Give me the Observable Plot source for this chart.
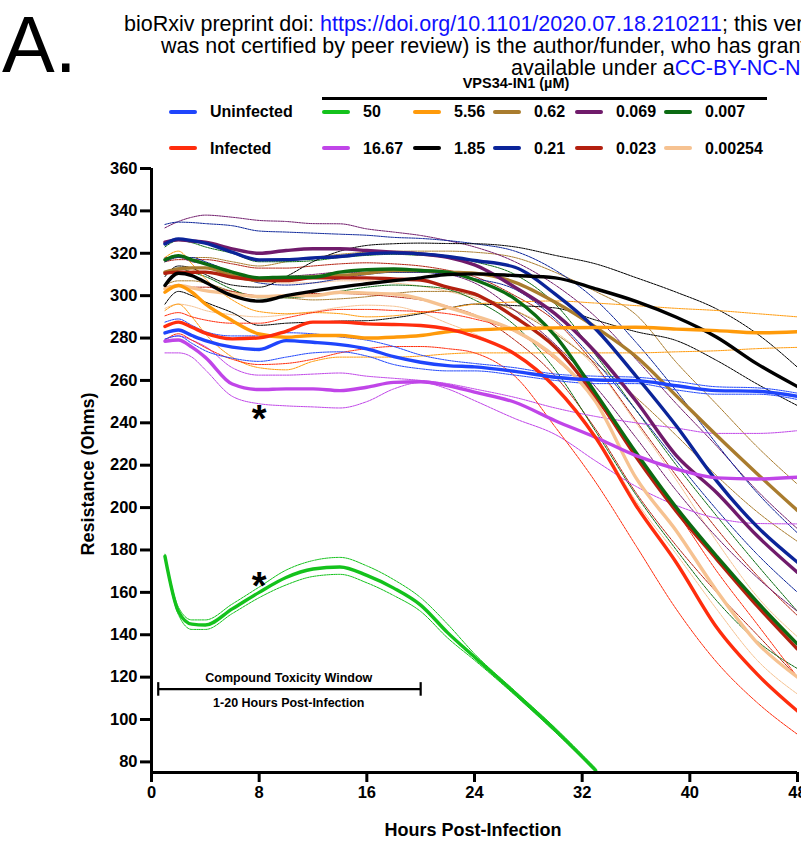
<!DOCTYPE html>
<html>
<head>
<meta charset="utf-8">
<script src="https://cdn.jsdelivr.net/npm/d3@7"></script>
<script src="https://cdn.jsdelivr.net/npm/@observablehq/plot@0.6"></script>
<style>
  html, body { margin: 0; padding: 0; background: #fff; }
  body { width: 801px; height: 845px; overflow: hidden; position: relative; font-family: "Liberation Sans", Arial, sans-serif; color: #000; }
  .abs { position: absolute; white-space: nowrap; }
  .wm { font-size: 21.5px; line-height: 22px; font-weight: normal; }
  .wm a, .lnk { color: #1010ff; text-decoration: none; }
  .leg { font-size: 16px; line-height: 16px; font-weight: bold; }
  .sw { position: absolute; height: 4px; width: 28px; border-radius: 2px; }
  #chart svg text { font-weight: bold; }
</style>
</head>
<body>
<div id="chart" class="abs" style="left:0;top:0"></div>
<div id="overlay"></div>
<script>
// ---------------- data ----------------
const hours = [1, 2, 3, 4, 6, 8, 10, 12, 14, 16, 18, 20, 22, 24, 27, 30, 33, 36, 39, 42, 45, 48];

const uninfectedMean  = [282.4, 283.8, 281.2, 278.8, 275.7, 274.6, 278.8, 278.0, 276.9, 274.9, 271.2, 268.6, 267.0, 266.4, 264.3, 261.5, 260.2, 259.9, 257.5, 255.2, 254.9, 252.5];
const uninfectedUpper = [287.5, 289.0, 286.0, 283.0, 281.0, 281.0, 282.5, 282.0, 280.5, 279.0, 276.0, 272.0, 269.5, 268.0, 266.0, 263.0, 262.0, 261.5, 259.5, 257.0, 256.5, 254.0];
const uninfectedLower = [279.5, 281.0, 277.5, 274.0, 270.5, 269.0, 271.0, 273.0, 273.5, 271.5, 267.5, 265.5, 264.5, 264.5, 262.5, 260.0, 258.5, 258.5, 255.5, 253.5, 253.5, 251.0];

const infectedMean  = [285.4, 287.5, 285.1, 282.3, 279.6, 280.1, 283.2, 287.5, 287.5, 286.7, 286.4, 285.9, 284.3, 280.8, 272.5, 256.8, 233.0, 201.0, 174.0, 143.4, 121.4, 104.0];
const infectedUpper = [290.5, 292.0, 290.0, 288.5, 287.0, 287.0, 289.5, 292.0, 293.5, 293.5, 293.0, 292.5, 291.5, 289.0, 283.0, 270.0, 251.0, 224.0, 198.0, 170.0, 145.0, 120.0];
const infectedLower = [279.0, 282.0, 279.0, 275.5, 270.0, 267.5, 268.0, 270.0, 273.0, 275.0, 276.0, 276.0, 275.0, 273.0, 262.0, 238.0, 212.0, 182.0, 152.0, 127.0, 108.0, 93.0];

const dose50Mean  = [177.0, 151.0, 145.0, 144.6, 152.2, 160.0, 167.0, 171.0, 172.0, 168.0, 162.0, 154.0, 141.0, 129.5, 112.5, 95.0, 76.0];
const dose50Upper = [178.0, 153.0, 147.0, 147.0, 154.5, 162.5, 170.5, 175.0, 176.5, 172.5, 166.0, 157.5, 145.0, 131.0, 113.5, 96.0, 77.0];
const dose50Lower = [176.0, 149.5, 142.5, 142.5, 150.0, 157.5, 163.5, 167.5, 168.5, 164.5, 158.5, 151.0, 138.5, 128.0, 111.5, 94.0, 75.5];

const dose16Mean  = [278.5, 279.1, 275.7, 270.9, 258.3, 255.7, 256.0, 256.0, 255.2, 256.8, 259.1, 259.4, 257.6, 254.5, 249.7, 241.0, 233.1, 224.5, 218.2, 214.0, 213.5, 214.3];
const dose16Upper = [279.5, 281.0, 279.0, 276.0, 266.0, 262.5, 262.5, 263.0, 263.5, 262.0, 261.0, 260.0, 258.5, 256.0, 252.0, 247.0, 243.0, 240.0, 237.5, 235.0, 235.0, 236.3];
const dose16Lower = [273.0, 273.0, 271.0, 265.0, 252.5, 249.0, 248.0, 247.5, 247.0, 250.0, 256.0, 259.0, 256.0, 250.5, 242.0, 234.5, 222.0, 210.0, 201.0, 195.0, 192.5, 192.3];

const dose5Mean  = [301.6, 304.8, 301.6, 296.1, 288.2, 281.9, 280.4, 281.2, 281.2, 280.0, 280.4, 281.2, 283.0, 283.8, 284.5, 284.8, 285.0, 285.1, 284.2, 283.5, 282.5, 283.0];
const dose5Upper = [318.0, 321.0, 315.0, 308.0, 298.0, 292.5, 291.5, 292.0, 291.5, 290.0, 290.5, 292.0, 294.0, 296.0, 297.0, 297.5, 296.5, 295.3, 294.0, 293.0, 291.5, 290.0];
const dose5Lower = [293.0, 296.0, 290.0, 282.0, 271.0, 266.0, 265.0, 269.0, 271.0, 271.0, 271.0, 271.5, 272.5, 273.0, 273.0, 273.0, 273.0, 273.0, 273.5, 274.0, 275.0, 275.6];

const dose1Mean  = [304.8, 310.6, 309.5, 306.3, 300.0, 297.4, 300.0, 302.1, 304.0, 305.6, 307.1, 308.4, 310.0, 310.3, 309.5, 308.4, 303.2, 297.3, 289.8, 280.4, 267.8, 257.1];
const dose1Upper = [309.0, 314.0, 313.0, 310.0, 305.0, 304.0, 309.0, 316.0, 321.0, 323.7, 324.5, 324.8, 324.6, 324.5, 323.0, 319.0, 315.0, 308.5, 301.6, 293.7, 282.0, 266.2];
const dose1Lower = [296.0, 302.0, 300.0, 297.0, 292.0, 286.0, 287.0, 287.5, 288.0, 288.2, 289.5, 291.5, 294.0, 296.0, 295.3, 294.2, 288.5, 283.0, 278.8, 269.4, 258.3, 248.1];

const dose062Mean  = [311.1, 312.6, 313.1, 313.1, 309.5, 307.1, 308.0, 309.0, 309.5, 310.6, 311.9, 311.9, 311.1, 310.6, 306.3, 296.9, 285.1, 271.3, 252.7, 234.0, 216.0, 198.6];
const dose062Upper = [316.0, 318.0, 318.0, 318.0, 316.0, 314.0, 316.0, 318.0, 319.5, 320.5, 321.0, 321.0, 321.0, 320.5, 318.0, 311.0, 302.0, 291.0, 268.5, 248.7, 228.7, 211.0];
const dose062Lower = [305.0, 307.0, 307.0, 306.0, 302.0, 299.5, 299.0, 298.0, 298.5, 299.5, 301.0, 302.0, 302.0, 300.0, 293.0, 282.0, 268.0, 252.0, 234.0, 215.0, 198.0, 184.0];

const dose021Mean  = [324.4, 326.8, 326.0, 324.8, 320.5, 316.9, 317.0, 317.8, 318.5, 319.7, 320.2, 319.7, 318.5, 316.6, 313.4, 300.7, 284.3, 262.1, 238.5, 212.5, 191.0, 174.2];
const dose021Upper = [333.6, 334.7, 334.5, 334.0, 333.0, 330.5, 330.0, 329.5, 329.0, 328.5, 327.5, 327.0, 326.0, 324.5, 321.0, 312.0, 298.0, 278.0, 255.0, 230.0, 207.0, 188.0];
const dose021Lower = [316.0, 318.0, 318.0, 316.0, 311.0, 306.0, 305.0, 306.0, 308.0, 310.0, 311.0, 311.0, 310.0, 308.0, 303.0, 289.0, 269.0, 246.0, 222.0, 199.0, 178.0, 160.0];

const dose0069Mean  = [325.2, 326.3, 325.8, 325.2, 322.1, 320.0, 321.3, 322.1, 322.1, 321.3, 320.5, 319.7, 318.1, 314.5, 304.0, 291.4, 273.3, 250.3, 224.5, 207.0, 186.7, 169.4];
const dose0069Upper = [332.0, 335.0, 337.0, 338.0, 337.0, 335.5, 335.0, 334.0, 333.9, 331.5, 330.0, 328.4, 326.0, 323.0, 316.0, 305.0, 290.0, 270.0, 249.0, 229.0, 208.0, 190.0];
const dose0069Lower = [318.0, 318.0, 316.0, 315.0, 311.0, 308.0, 309.0, 310.0, 311.0, 311.0, 311.0, 311.0, 310.0, 306.0, 293.0, 277.0, 257.0, 233.0, 208.0, 186.0, 167.0, 151.0];

const dose0023Mean  = [310.6, 311.1, 311.0, 311.1, 308.7, 307.4, 307.1, 308.4, 308.4, 308.4, 307.9, 307.4, 304.0, 300.8, 289.8, 275.6, 252.5, 224.0, 198.2, 175.6, 153.6, 133.2];
const dose0023Upper = [316.0, 317.0, 317.0, 317.0, 315.0, 313.0, 313.0, 314.0, 315.0, 315.5, 315.0, 314.0, 312.0, 309.0, 300.0, 288.0, 267.0, 241.0, 215.0, 190.0, 168.0, 149.0];
const dose0023Lower = [304.0, 305.0, 304.0, 304.0, 302.0, 300.0, 300.0, 301.0, 301.0, 300.5, 299.5, 298.0, 295.0, 291.0, 279.0, 262.0, 237.0, 207.0, 182.0, 160.0, 140.0, 120.0];

const dose0007Mean  = [316.9, 318.9, 316.9, 315.0, 311.1, 308.4, 308.7, 308.7, 311.1, 312.2, 312.6, 311.9, 311.1, 307.5, 298.5, 281.0, 254.0, 226.0, 200.0, 177.0, 155.5, 135.6];
const dose0007Upper = [323.0, 326.0, 325.0, 323.0, 320.0, 316.0, 316.0, 316.5, 318.0, 319.0, 319.5, 319.0, 318.5, 316.0, 310.0, 296.0, 272.0, 246.0, 220.0, 196.0, 173.0, 151.0];
const dose0007Lower = [311.0, 313.0, 311.0, 309.0, 303.0, 299.0, 299.0, 300.0, 302.0, 304.0, 305.0, 304.5, 303.0, 298.0, 286.0, 265.0, 236.0, 206.0, 180.0, 156.0, 137.0, 124.0];

const dose00025Mean  = [303.2, 304.8, 303.7, 302.4, 300.8, 299.6, 300.0, 300.0, 301.6, 301.2, 300.8, 298.5, 294.5, 290.6, 283.5, 271.0, 250.0, 214.0, 189.0, 160.7, 136.2, 120.0];
const dose00025Upper = [310.0, 313.0, 312.0, 311.0, 310.0, 307.0, 306.0, 306.0, 307.0, 307.0, 306.0, 304.5, 302.0, 299.0, 293.0, 283.0, 266.0, 240.0, 213.0, 184.0, 158.0, 139.0];
const dose00025Lower = [294.0, 296.0, 295.0, 293.0, 291.0, 290.0, 291.0, 292.5, 294.5, 295.5, 295.0, 292.0, 287.0, 282.0, 272.0, 257.0, 234.0, 203.0, 178.0, 152.0, 128.0, 112.0];

const xTicks = [0, 8, 16, 24, 32, 40, 48];
const yTicks = [80, 100, 120, 140, 160, 180, 200, 220, 240, 260, 280, 300, 320, 340, 360];

// annotations
const asterisks = [{hour: 8, ohms: 241.4}, {hour: 8, ohms: 162.4}];
const toxicityWindow = [{start: 0.5, end: 20, ohms: 114.3, tickLow: 111.0, tickHigh: 117.4}];
const toxicityLabels = [
  {hour: 10.2, ohms: 119.8, text: "Compound Toxicity Window"},
  {hour: 10.2, ohms: 107.8, text: "1-20 Hours Post-Infection"}
];

// series definitions (draw order: first drawn at bottom)
const series = [
  {label: "0.00254", color: "#f6c291", mean: dose00025Mean, upper: dose00025Upper, lower: dose00025Lower},
  {label: "0.62",    color: "#a97c2e", mean: dose062Mean,   upper: dose062Upper,   lower: dose062Lower},
  {label: "0.023",   color: "#b3200f", mean: dose0023Mean,  upper: dose0023Upper,  lower: dose0023Lower},
  {label: "0.007",   color: "#0b6b12", mean: dose0007Mean,  upper: dose0007Upper,  lower: dose0007Lower},
  {label: "0.069",   color: "#701b6b", mean: dose0069Mean,  upper: dose0069Upper,  lower: dose0069Lower},
  {label: "0.21",    color: "#0b2499", mean: dose021Mean,   upper: dose021Upper,   lower: dose021Lower},
  {label: "1.85",    color: "#000000", mean: dose1Mean,     upper: dose1Upper,     lower: dose1Lower},
  {label: "5.56",    color: "#ff9a0a", mean: dose5Mean,     upper: dose5Upper,     lower: dose5Lower},
  {label: "16.67",   color: "#c045e8", mean: dose16Mean,    upper: dose16Upper,    lower: dose16Lower},
  {label: "50",      color: "#14c21c", mean: dose50Mean,    upper: dose50Upper,    lower: dose50Lower},
  {label: "Infected",   color: "#ff2d0d", mean: infectedMean,   upper: infectedUpper,   lower: infectedLower},
  {label: "Uninfected", color: "#1f45fc", mean: uninfectedMean, upper: uninfectedUpper, lower: uninfectedLower}
];

const legendRow1 = ["Uninfected", "50", "5.56", "0.62", "0.069", "0.007"];
const legendRow2 = ["Infected", "16.67", "1.85", "0.21", "0.023", "0.00254"];

// ---------------- build rows ----------------
const bandRows = [], meanRows = [];
for (const s of series) {
  for (const band of ["upper", "lower"]) {
    s[band].forEach((v, i) => bandRows.push({id: s.label + "|" + band, hour: hours[i], ohms: v, color: s.color}));
  }
  s.mean.forEach((v, i) => meanRows.push({id: s.label, hour: hours[i], ohms: v, color: s.color}));
}

const chart = Plot.plot({
  width: 801,
  height: 845,
  marginLeft: 151,
  marginRight: 4,
  marginTop: 168,
  marginBottom: 73,
  style: {fontFamily: "'Liberation Sans', Arial, sans-serif", fontSize: "16.5px", background: "transparent", overflow: "visible"},
  x: {domain: [0, 48]},
  y: {domain: [75, 360]},
  color: {type: "identity"},
  marks: [
    Plot.line(bandRows, {x: "hour", y: "ohms", z: "id", stroke: "color", strokeWidth: 1, strokeDasharray: "2.5,1", curve: "monotone-x", clip: true}),
    Plot.line(meanRows, {x: "hour", y: "ohms", z: "id", stroke: "color", strokeWidth: 3.4, curve: "monotone-x", clip: true}),
    Plot.ruleX([0], {strokeWidth: 3}),
    Plot.ruleY([75], {strokeWidth: 3}),
    Plot.axisY({ticks: yTicks, tickSize: 11, tickPadding: 3, strokeWidth: 3, fontSize: 16.5, label: null}),
    Plot.axisX({ticks: xTicks, tickSize: 10, tickPadding: 4, strokeWidth: 3, fontSize: 16.5, label: null}),
    Plot.ruleY(toxicityWindow, {x1: "start", x2: "end", y: "ohms", strokeWidth: 2.2}),
    Plot.ruleX(toxicityWindow, {x: "start", y1: "tickLow", y2: "tickHigh", strokeWidth: 2.2}),
    Plot.ruleX(toxicityWindow, {x: "end", y1: "tickLow", y2: "tickHigh", strokeWidth: 2.2}),
    Plot.text(toxicityLabels, {x: "hour", y: "ohms", text: "text", fontSize: 12.5, fill: "#000"}),
    Plot.text(asterisks, {x: "hour", y: "ohms", text: () => "*", fontSize: 38, fill: "#000"})
  ]
});
document.getElementById("chart").appendChild(chart);

// ---------------- overlay text: header, watermark, legend, axis titles ----------------
const ov = document.getElementById("overlay");
function add(html, css, cls) {
  const d = document.createElement("div");
  d.className = "abs " + (cls || "");
  d.style.cssText = css;
  d.innerHTML = html;
  ov.appendChild(d);
  return d;
}
add("A.", "left:2px;top:5px;font-size:79px;line-height:79px;");
add('bioRxiv preprint doi: <a>https://doi.org/10.1101/2020.07.18.210211</a>; this version posted July 18, 2020. The copyright holder for this preprint (which', "left:124px;top:13px;", "wm");
add("was not certified by peer review) is the author/funder, who has granted bioRxiv a license to display the preprint in perpetuity. It is made", "left:161px;top:35px;", "wm");
add('available under a<a>CC-BY-NC-ND 4.0 International license</a>.', "left:511px;top:57px;", "wm");

add("VPS34-IN1 (µM)", "left:416px;width:200px;text-align:center;top:76px;font-size:14.5px;line-height:14.5px;font-weight:bold;");
add("", "left:322px;top:97px;width:445px;height:3px;background:#000;");

const colX = [169, 322, 413, 493, 575, 664];
const colorOf = Object.fromEntries(series.map(s => [s.label, s.color]));
[[legendRow1, 110, 104], [legendRow2, 146, 140.5]].forEach(([row, swY, txtY]) => {
  row.forEach((label, j) => {
    add("", `left:${colX[j]}px;top:${swY}px;background:${colorOf[label]};`, "sw");
    add(label, `left:${colX[j] + 41}px;top:${txtY}px;`, "leg");
  });
});

add("Hours Post-Infection", "left:273px;width:400px;text-align:center;top:821px;font-size:18px;line-height:18px;font-weight:bold;");
add("Resistance (Ohms)", "left:-62px;width:300px;text-align:center;top:465px;font-size:18px;line-height:18px;font-weight:bold;transform:rotate(-90deg);transform-origin:150px 9px;");
</script>
</body>
</html>
